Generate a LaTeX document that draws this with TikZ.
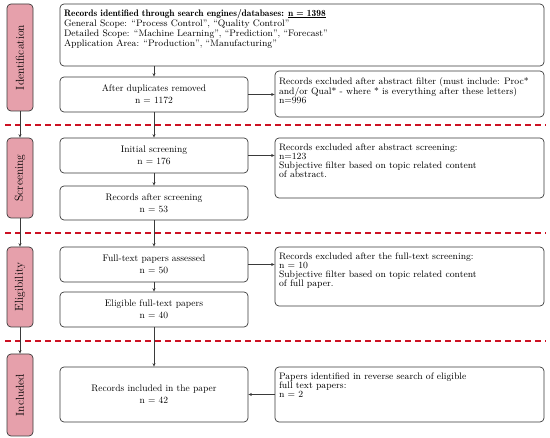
\documentclass[tikz,border=0pt]{standalone}
\usetikzlibrary{arrows.meta}
\definecolor{phasefill}{HTML}{E6A0AB}
\definecolor{dashred}{HTML}{CC1123}
\definecolor{edge}{HTML}{3A3A3A}
\begin{document}
\begin{tikzpicture}[x=1pt,y=-1pt,
  box/.style={draw=edge,line width=0.7pt,rounded corners=4pt,inner sep=0pt,align=center,font=\fontsize{9.5}{11.8}\selectfont},
  sidebox/.style={box,font=\fontsize{9.4}{9}\selectfont},
  phase/.style={draw=edge,line width=0.7pt,rounded corners=4pt,fill=phasefill,inner sep=0pt,minimum width=26pt,font=\fontsize{11.5}{12}\selectfont},
  sep/.style={dashred,line width=2pt,dash pattern=on 6pt off 4pt},
  arr/.style={-{Stealth[length=3.5pt,width=3pt]},draw=edge,line width=0.6pt}]
\useasboundingbox (0,0) rectangle (550,438);
% phases
\node[phase,minimum height=107pt] (pid) at (20,57.5) {\rotatebox{90}{Identification}};
\node[phase,minimum height=80pt] (psc) at (20,178) {\rotatebox{90}{Screening}};
\node[phase,minimum height=80pt] (pel) at (20,287) {\rotatebox{90}{Eligibility}};
\node[phase,minimum height=82pt] (pin) at (20,395) {\rotatebox{90}{Included}};
% separators
\draw[sep] (5,125) -- (546,125);
\draw[sep] (5,233) -- (546,233);
\draw[sep] (5,341) -- (546,341);
% main boxes
\node[box,minimum width=484pt,minimum height=62pt,font=\fontsize{9.4}{10}\selectfont] (b1) at (302,35) {\begin{minipage}[t][58pt][t]{476pt}\raggedright\vspace*{3pt}
{\fontseries{b}\selectfont Records identified through search engines/databases: \underline{n = 1398}}\\
General Scope: “Process Control”, “Quality Control”\\
Detailed Scope: “Machine Learning”, “Prediction”, “Forecast”\\
Application Area: “Production”, “Manufacturing”\end{minipage}};
\node[box,minimum width=188pt,minimum height=35pt] (dup) at (154,94.5) {After duplicates removed\\n = 1172};
\node[box,minimum width=188pt,minimum height=35pt] (ini) at (154,155.5) {Initial screening\\n = 176};
\node[box,minimum width=188pt,minimum height=34pt] (aft) at (154,203) {Records after screening\\n = 53};
\node[box,minimum width=188pt,minimum height=35pt] (ful) at (154,264.5) {Full-text papers assessed\\n = 50};
\node[box,minimum width=188pt,minimum height=35pt] (eli) at (154,309.5) {Eligible full-text papers\\n = 40};
\node[box,minimum width=188pt,minimum height=55pt] (inc) at (154,394.5) {Records included in the paper\\n = 42};
% right boxes
\node[sidebox,minimum width=269pt,minimum height=46pt] (ex1) at (409.5,94) {\begin{minipage}[t][41pt][t]{261pt}\raggedright\vspace*{3.5pt}
Records excluded after abstract filter (must include: Proc*\\ and/or Qual* - where * is everything after these letters)\\
n=996\end{minipage}};
\node[sidebox,minimum width=269pt,minimum height=60pt] (ex2) at (409.5,168) {\begin{minipage}[t][55pt][t]{261pt}\raggedright\vspace*{3.5pt}
Records excluded after abstract screening:\\
n=123\\
Subjective filter based on topic related content\\
of abstract.\end{minipage}};
\node[sidebox,minimum width=269pt,minimum height=59pt] (ex3) at (409.5,276.5) {\begin{minipage}[t][54pt][t]{261pt}\raggedright\vspace*{3.5pt}
Records excluded after the full-text screening:\\
n = 10\\
Subjective filter based on topic related content\\
of full paper.\end{minipage}};
\node[sidebox,minimum width=269pt,minimum height=55pt] (rev) at (409.5,394.5) {\begin{minipage}[t][50pt][t]{261pt}\raggedright\vspace*{3pt}
Papers identified in reverse search of eligible\\
full text papers:\\
n = 2\end{minipage}};
% phase arrows
\draw[arr] (pid) -- (psc);
\draw[arr] (psc) -- (pel);
\draw[arr] (pel) -- (pin);
% vertical flow
\draw[arr] (dup.north |- b1.south) -- (dup.north);
\draw[arr] (dup) -- (ini);
\draw[arr] (ini) -- (aft);
\draw[arr] (aft) -- (ful);
\draw[arr] (ful) -- (eli);
\draw[arr] (eli) -- (inc);
% horizontal
\draw[arr] (dup.east) -- (dup.east -| ex1.west);
\draw[arr] (ini.east) -- (ini.east -| ex2.west);
\draw[arr] (ful.east) -- (ful.east -| ex3.west);
\draw[arr] (rev.west) -- (inc.east);
\end{tikzpicture}
\end{document}
